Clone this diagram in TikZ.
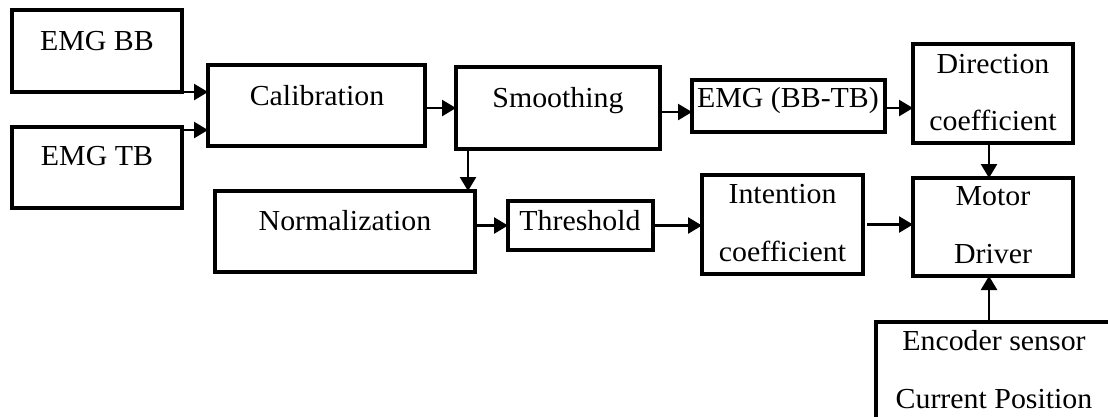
\documentclass[tikz,border=0pt]{standalone}
\usepackage{fontspec}
\setmainfont{Liberation Serif}[FakeStretch=1.03]
\usetikzlibrary{arrows.meta}
\begin{document}
\begin{tikzpicture}[x=1pt,y=-1pt,
  box/.style={draw,line width=3.5pt,rectangle,inner sep=0pt,outer sep=0pt},
  lbl/.style={anchor=base,inner sep=0pt,font=\fontsize{29}{33}\selectfont},
  arr/.style={line width=2.5pt,-{Triangle[length=14pt,width=16pt]}}]
\useasboundingbox (0,0) rectangle (1108,416);
% boxes
\node[box,minimum width=170pt,minimum height=82pt] (bb) at (97,51) {};
\node[box,minimum width=170pt,minimum height=81pt] (tb) at (97,167.5) {};
\node[box,minimum width=217pt,minimum height=81pt] (cal) at (316.5,105.5) {};
\node[box,minimum width=204pt,minimum height=82pt] (smo) at (558,108) {};
\node[box,minimum width=193pt,minimum height=52pt] (emgd) at (788.5,106) {};
\node[box,minimum width=160pt,minimum height=99pt] (dir) at (993,93.5) {};
\node[box,minimum width=160pt,minimum height=98pt] (mot) at (993,227) {};
\node[box,minimum width=236pt,minimum height=120pt] (enc) at (994,382) {};
\node[box,minimum width=260pt,minimum height=81pt] (norm) at (345,231.5) {};
\node[box,minimum width=145pt,minimum height=49pt] (thr) at (580.5,225.5) {};
\node[box,minimum width=161pt,minimum height=99pt] (int) at (782.5,224.5) {};
% texts
\node[lbl] (tbb) at (97,50) {EMG BB};
\node[lbl] (ttb) at (97,165) {EMG TB};
\node[lbl] (tcal) at (317,105) {Calibration};
\node[lbl] (tsmo) at (558,107) {Smoothing};
\node[lbl] (temgd) at (788,107) {EMG (BB-TB)};
\node[lbl] (tdir1) at (993,73) {Direction};
\node[lbl] (tdir2) at (993,130) {coefficient};
\node[lbl] (tmot1) at (993,205) {Motor};
\node[lbl] (tmot2) at (993,263) {Driver};
\node[lbl] (tenc1) at (994,350) {Encoder sensor};
\node[lbl] (tenc2) at (994,408) {Current Position};
\node[lbl] (tnorm) at (345,230) {Normalization};
\node[lbl] (tthr) at (580,230) {Threshold};
\node[lbl] (tint1) at (782.5,203) {Intention};
\node[lbl] (tint2) at (782.5,261) {coefficient};
% arrows
\draw[arr] (bb.south east) -- (bb.south east -| cal.west);
\draw[arr] ([yshift=-3pt]tb.north east) -- ([yshift=-3pt]tb.north east -| cal.west);
\draw[arr] ([yshift=-2.5pt]cal.east) -- ([yshift=-2.5pt]cal.east -| smo.west);
\draw[arr] ([yshift=-4pt]smo.east) -- ([yshift=-4pt]smo.east -| emgd.west);
\draw[arr] ([yshift=-2pt]emgd.east) -- ([yshift=-2pt]emgd.east -| dir.west);
\draw[arr] ([xshift=-4pt]dir.south) -- ([xshift=-4pt]mot.north);
\draw[arr] ([xshift=12pt]smo.south west) -- ([xshift=12pt]smo.south west |- norm.north);
\draw[arr] (norm.east |- thr.west) -- (thr.west);
\draw[arr] (thr.east) -- (thr.east -| int.west);
\draw[arr] ([xshift=4pt]int.east) -- (int.east -| mot.west);
\draw[arr] ([xshift=-4pt]enc.north -| mot.south) -- ([xshift=-4pt]mot.south);
\end{tikzpicture}
\end{document}
